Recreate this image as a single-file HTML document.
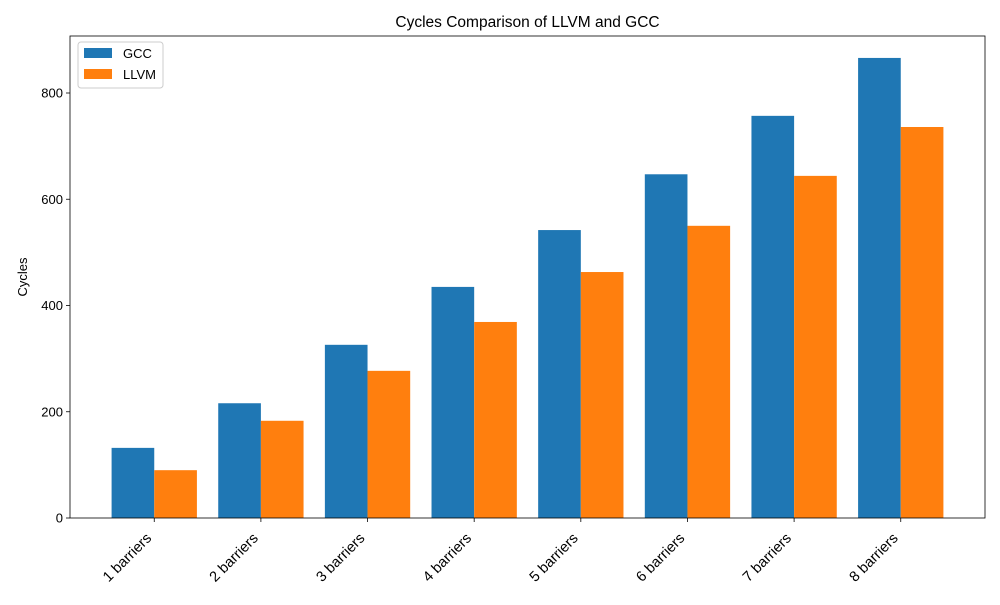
<!DOCTYPE html>
<html><head><meta charset="utf-8"><style>
body{margin:0;background:#fff;font-family:"Liberation Sans","DejaVu Sans",sans-serif;}
</style></head><body>
<svg id="chart" width="1000" height="600" xmlns="http://www.w3.org/2000/svg"></svg>
<script>
const categories=["1 barriers","2 barriers","3 barriers","4 barriers","5 barriers","6 barriers","7 barriers","8 barriers"];
const gccValues=[132,216,326,435,542,647,757,866];
const llvmValues=[90,183,277,369,463,550,644,736];
const yTicks=[0,200,400,600,800];

const svg=document.getElementById('chart');
const NS='http://www.w3.org/2000/svg';
const L=70,R=985,T=36,B=518;
const xMin=-0.79,xMax=7.79;
const yMax=(B-T)/0.53125;
function xs(v){return L+(v-xMin)/(xMax-xMin)*(R-L);}
function ys(v){return B-v/yMax*(B-T);}
function mk(tag,attrs,text){const e=document.createElementNS(NS,tag);for(const k in attrs)e.setAttribute(k,attrs[k]);if(text!==undefined)e.textContent=text;svg.appendChild(e);return e;}
const w=0.4;
categories.forEach((c,i)=>{
  const g=mk('rect',{x:xs(i-w),y:ys(gccValues[i]),width:xs(i)-xs(i-w),height:B-ys(gccValues[i]),fill:'#1f77b4'});
  
  
  const l=mk('rect',{x:xs(i),y:ys(llvmValues[i]),width:xs(i+w)-xs(i),height:B-ys(llvmValues[i]),fill:'#ff7f0e'});
  
  
  mk('line',{x1:xs(i),x2:xs(i),y1:B,y2:B+4,stroke:'#000','stroke-width':0.8});
  const tx=xs(i)-2,ty=B+21;
  const t=mk('text',{x:tx,y:ty,'font-size':14.6,'text-anchor':'end',transform:`rotate(-45 ${tx} ${ty})`},c);
  
  
});
yTicks.forEach(v=>{
  mk('line',{x1:L-4,x2:L,y1:ys(v),y2:ys(v),stroke:'#000','stroke-width':0.8});
  const t=mk('text',{x:L-7,y:ys(v)+4.5,'font-size':13,'text-anchor':'end'},v);
  
  
});
const frame=mk('rect',{x:L,y:T,width:R-L,height:B-T,fill:'none',stroke:'#000','stroke-width':0.8});


const title=mk('text',{x:(L+R)/2,y:27,'font-size':15.5,'text-anchor':'middle'},'Cycles Comparison of LLVM and GCC');


const yl=mk('text',{x:27,y:(T+B)/2,'font-size':13,'text-anchor':'middle',transform:`rotate(-90 27 ${(T+B)/2})`},'Cycles');


const lg=mk('rect',{x:78,y:42,width:85,height:46,fill:'#fff',stroke:'#ccc','stroke-width':1,rx:3});


mk('rect',{x:84,y:48,width:28,height:10,fill:'#1f77b4'});
const l1=mk('text',{x:123,y:58,'font-size':13},'GCC');


mk('rect',{x:84,y:69,width:28,height:10,fill:'#ff7f0e'});
const l2=mk('text',{x:123,y:79,'font-size':13},'LLVM');


</script>
</body></html>
